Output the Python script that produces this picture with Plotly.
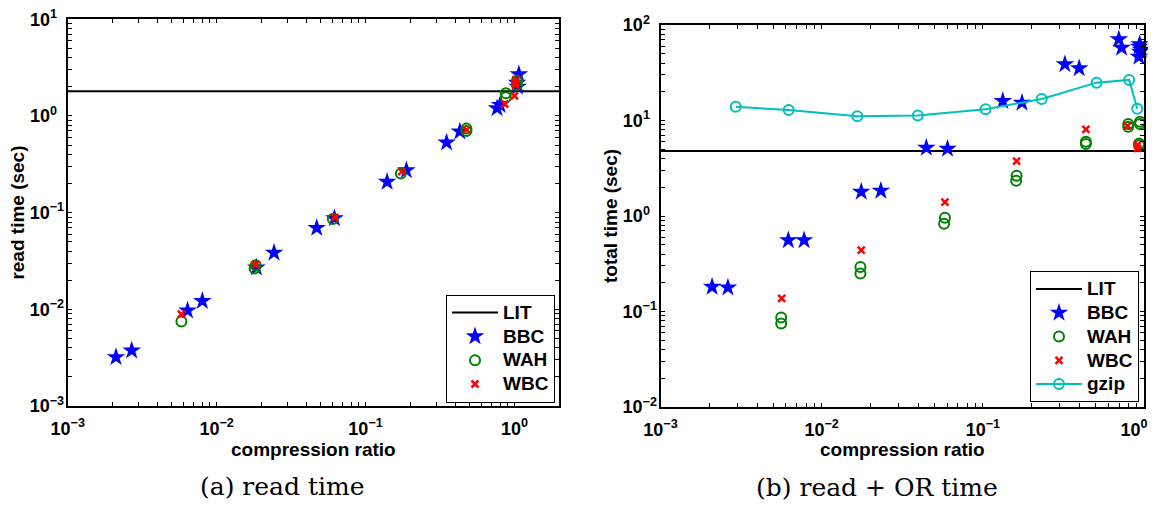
import math
import plotly.graph_objects as go

# ---------------- data ----------------
# (a) read time
bbc_a_x = [0.00211, 0.00269, 0.00638, 0.00802, 0.0185, 0.0243, 0.047, 0.0618, 0.1396, 0.188,
           0.35, 0.43, 0.764, 0.80, 1.07, 1.04, 1.05]
bbc_a_y = [0.0032, 0.00374, 0.0097, 0.0122, 0.027, 0.0385, 0.0695, 0.0875, 0.208, 0.274,
           0.53, 0.69, 1.2, 1.3, 2.7, 2.2, 2.0]
wah_a_x = [0.0058, 0.018, 0.0183, 0.0603, 0.1726, 0.476, 0.476, 0.875, 0.875, 1.04, 1.04]
wah_a_y = [0.0075, 0.0264, 0.0285, 0.086, 0.254, 0.70, 0.74, 1.56, 1.72, 2.09, 2.32]
wbc_a_x = [0.0058, 0.0183, 0.062, 0.175, 0.476, 0.86, 1.0, 1.02, 1.02, 1.02]
wbc_a_y = [0.0089, 0.0292, 0.0895, 0.266, 0.72, 1.33, 1.61, 2.09, 2.38, 2.2]
lit_a = 1.8

# (b) read + OR time
bbc_b_x = [0.00209, 0.00262, 0.00621, 0.00778, 0.0176, 0.0233, 0.0446, 0.0604, 0.133, 0.175,
           0.323, 0.396, 0.698, 0.726, 0.933, 0.945, 0.93, 0.94, 0.96]
bbc_b_y = [0.181, 0.178, 0.558, 0.558, 1.79, 1.84, 5.18, 5.06, 16.0, 15.3,
           38.8, 35.2, 70.8, 57.8, 59.3, 52.5, 46.5, 63.0, 55.0]
wah_b_x = [0.00561, 0.00561, 0.0174, 0.0174, 0.0582, 0.0575, 0.162, 0.161, 0.436, 0.436,
           0.798, 0.798, 0.944, 0.944, 0.933, 0.933]
wah_b_y = [0.0863, 0.0747, 0.293, 0.25, 0.957, 0.828, 2.64, 2.34, 5.98, 5.66,
           9.17, 8.6, 9.72, 9.17, 5.75, 5.5]
wbc_b_x = [0.00565, 0.0176, 0.0582, 0.162, 0.436, 0.79, 0.912, 0.912]
wbc_b_y = [0.137, 0.438, 1.40, 3.76, 8.09, 8.77, 5.54, 5.1]
gzip_x = [0.00293, 0.00624, 0.01664, 0.0395, 0.104, 0.232, 0.508, 0.809, 0.908]
gzip_y = [13.9, 12.9, 11.1, 11.3, 13.1, 16.8, 24.9, 26.6, 13.3]
lit_b = 4.8

# axis ranges / tick labels
xa_range = [0.001, 2.0]
ya_range = [0.001, 10.0]
xb_range = [0.001, 1.0]
yb_range = [0.01, 100.0]
xa_ticks = [0.001, 0.01, 0.1, 1]
xa_text = ["10<sup>−3</sup>", "10<sup>−2</sup>", "10<sup>−1</sup>", "10<sup>0</sup>"]
xb_text = ["10<sup>−3</sup>", "10<sup>−2</sup>", "10<sup>−1</sup>", "10<sup>0</sup>\u00a0\u00a0\u00a0\u00a0"]
ya_ticks = [0.001, 0.01, 0.1, 1, 10]
ya_text = ["10<sup>−3</sup>", "10<sup>−2</sup>", "10<sup>−1</sup>",
           "10<sup>0\u00a0\u00a0</sup>", "10<sup>1\u00a0\u00a0</sup>"]
yb_ticks = [0.01, 0.1, 1, 10, 100]
yb_text = ["10<sup>−2</sup>", "10<sup>−1</sup>", "10<sup>0\u00a0\u00a0</sup>",
           "10<sup>1\u00a0\u00a0</sup>", "10<sup>2\u00a0\u00a0</sup>"]
x_title = "compression ratio"
ya_title = "read time (sec)"
yb_title = "total time (sec)"
captions = ["(a) read time", "(b) read + OR time"]

BLUE = "#0000FF"
GREEN = "#008000"
RED = "#FF0000"
CYAN = "#00BFBF"
SANS = "Liberation Sans"


def lab(t):
    return "<span style='font-size:19px'>" + t + "</span>"


fig = go.Figure()


def add_set(xax, yax, leg, xr, lit, bx, by, wx, wy, rx, ry):
    fig.add_trace(go.Scatter(x=xr, y=[lit, lit], mode="lines", name=lab("LIT"),
                             line=dict(color="black", width=2), xaxis=xax, yaxis=yax, legend=leg))
    fig.add_trace(go.Scatter(x=bx, y=by, mode="markers", name=lab("BBC"), cliponaxis=False,
                             marker=dict(symbol="star", size=14, color=BLUE, line=dict(width=0)),
                             xaxis=xax, yaxis=yax, legend=leg))
    fig.add_trace(go.Scatter(x=wx, y=wy, mode="markers", name=lab("WAH"), cliponaxis=False,
                             marker=dict(symbol="circle-open", size=10, color=GREEN,
                                         line=dict(width=2, color=GREEN)),
                             xaxis=xax, yaxis=yax, legend=leg))
    fig.add_trace(go.Scatter(x=rx, y=ry, mode="markers", name=lab("WBC"), cliponaxis=False,
                             marker=dict(symbol="x-thin-open", size=7, color=RED,
                                         line=dict(width=2.5, color=RED)),
                             xaxis=xax, yaxis=yax, legend=leg))


add_set("x", "y", "legend", xa_range, lit_a, bbc_a_x, bbc_a_y, wah_a_x, wah_a_y, wbc_a_x, wbc_a_y)
add_set("x2", "y2", "legend2", xb_range, lit_b, bbc_b_x, bbc_b_y, wah_b_x, wah_b_y, wbc_b_x, wbc_b_y)
fig.add_trace(go.Scatter(x=gzip_x, y=gzip_y, mode="lines+markers", name=lab("gzip"), cliponaxis=False,
                         line=dict(color=CYAN, width=2),
                         marker=dict(symbol="circle-open", size=10, color=CYAN,
                                     line=dict(width=2, color=CYAN)),
                         xaxis="x2", yaxis="y2", legend="legend2"))


def lg(r):
    return [math.log10(r[0]), math.log10(r[1])]


def minor_vals(r):
    lo, hi = int(math.floor(math.log10(r[0]))), int(math.ceil(math.log10(r[1])))
    return [m * 10 ** e for e in range(lo, hi) for m in range(2, 10) if m * 10 ** e <= r[1]]


tickfont = dict(family=SANS, size=18, color="black", weight="bold")
titlefont = dict(family=SANS, size=19, color="black", weight="bold")


def axis(rng, ticks, text, standoff_lbl):
    mv = minor_vals(rng)
    return dict(type="log", range=lg(rng), automargin=False, showline=True, linewidth=2,
                linecolor="black", mirror="allticks", ticks="inside", ticklen=4, tickwidth=1.2,
                tickcolor="black", showgrid=False, zeroline=False, tickfont=tickfont,
                tickmode="array", tickvals=list(ticks) + mv, ticktext=list(text) + [""] * len(mv),
                ticklabelstandoff=standoff_lbl, ticklabeloverflow="allow")


# page body adds an 8px offset; layout positions below are screen pixels minus OFF
OFF = 8
W, H = 1148, 498


def px(x):
    return (x - OFF) / W


def py(y):
    return 1 - (y - OFF) / H


xa_dom = [px(67.7), px(559.3)]
ya_dom = [py(406), py(19.3)]
xb_dom = [px(660.5), px(1144)]
yb_dom = [py(407), py(25)]


def note(text, x, y, font, angle=0):
    return dict(text=text, x=px(x), y=py(y), xref="paper", yref="paper", showarrow=False,
                xanchor="center", yanchor="middle", textangle=angle, font=font)


capfont = dict(family="DejaVu Serif", size=25, color="black")
legfont = dict(family=SANS, size=16, color="black", weight="bold")
fig.update_layout(
    width=W, height=H, margin=dict(l=0, r=0, t=0, b=0, autoexpand=False),
    paper_bgcolor="white", plot_bgcolor="white", showlegend=True,
    xaxis=dict(axis(xa_range, xa_ticks, xa_text, 5), domain=xa_dom, anchor="y"),
    yaxis=dict(axis(ya_range, ya_ticks, ya_text, -2), domain=ya_dom, anchor="x"),
    xaxis2=dict(axis(xb_range, xa_ticks, xb_text, 5), domain=xb_dom, anchor="y2"),
    yaxis2=dict(axis(yb_range, yb_ticks, yb_text, -2), domain=yb_dom, anchor="x2"),
    legend=dict(x=px(555), y=py(402.7), xanchor="right", yanchor="bottom",
                bordercolor="black", borderwidth=1, bgcolor="white",
                font=legfont, tracegroupgap=0, itemwidth=46),
    legend2=dict(x=px(1139), y=py(402), xanchor="right", yanchor="bottom",
                 bordercolor="black", borderwidth=1, bgcolor="white",
                 font=legfont, tracegroupgap=0, itemwidth=46),
    annotations=[
        note(x_title, 313.5, 449, titlefont),
        note(x_title, 902, 449, titlefont),
        note(ya_title, 18, 212.6, titlefont, -90),
        note(yb_title, 610, 216, titlefont, -90),
        note(captions[0], 282, 486, capfont),
        note(captions[1], 877, 487, capfont),
    ],
)

fig.write_html("out.html")
